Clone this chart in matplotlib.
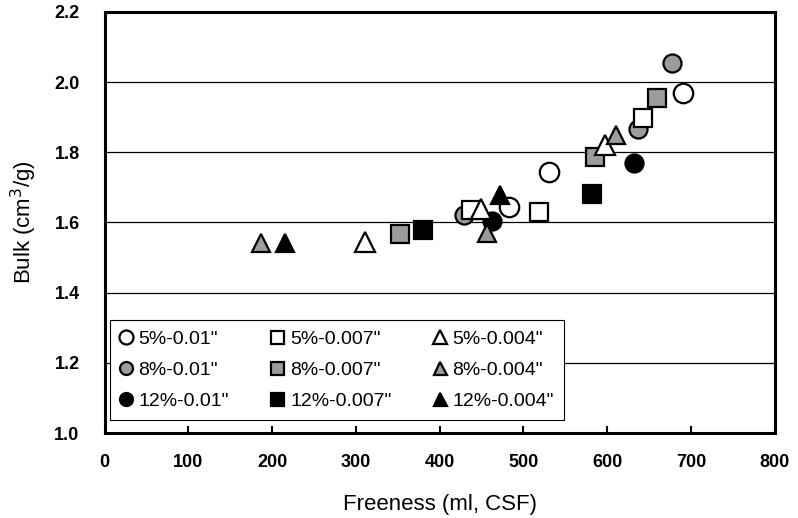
import matplotlib
matplotlib.use("Agg")
import matplotlib.pyplot as plt

plt.rcParams['font.family'] = ['Liberation Sans', 'DejaVu Sans']

# Data: (freeness, bulk) per series
labels = ['5%-0.01"', '8%-0.01"', '12%-0.01"',
          '5%-0.007"', '8%-0.007"', '12%-0.007"',
          '5%-0.004"', '8%-0.004"', '12%-0.004"']

x_5_010 = [483, 530, 690]
y_5_010 = [1.645, 1.743, 1.968]
x_8_010 = [429, 637, 677]
y_8_010 = [1.620, 1.866, 2.054]
x_12_010 = [462, 632]
y_12_010 = [1.604, 1.769]

x_5_007 = [437, 518, 643]
y_5_007 = [1.636, 1.631, 1.897]
x_8_007 = [353, 585, 659]
y_8_007 = [1.566, 1.786, 1.956]
x_12_007 = [380, 582]
y_12_007 = [1.579, 1.681]

x_5_004 = [311, 449, 597]
y_5_004 = [1.544, 1.638, 1.821]
x_8_004 = [187, 457, 611]
y_8_004 = [1.542, 1.570, 1.849]
x_12_004 = [215, 472]
y_12_004 = [1.542, 1.678]

xs = [x_5_010, x_8_010, x_12_010, x_5_007, x_8_007, x_12_007, x_5_004, x_8_004, x_12_004]
ys = [y_5_010, y_8_010, y_12_010, y_5_007, y_8_007, y_12_007, y_5_004, y_8_004, y_12_004]
markers = ['o', 'o', 'o', 's', 's', 's', '^', '^', '^']
fills = ['white', '#9c9c9c', 'black'] * 3
sizes = [14, 13, 13, 13, 13, 13, 14, 13, 13]

fig = plt.figure(figsize=(7.98, 5.18), dpi=100)
ax = fig.add_axes([0.131, 0.164, 0.840, 0.813])

handles = []
for x, y, m, fc, ms, lab in zip(xs, ys, markers, fills, sizes, labels):
    h, = ax.plot(x, y, linestyle='none', marker=m, markersize=ms,
                 markerfacecolor=fc, markeredgecolor='black', markeredgewidth=1.6,
                 label=lab, zorder=3)
    handles.append(h)

ax.set_xlim(0, 800)
ax.set_ylim(1.0, 2.2)
ax.set_xticks(range(0, 801, 100))
ax.set_yticks([1.0, 1.2, 1.4, 1.6, 1.8, 2.0, 2.2])
ax.set_yticklabels(['1.0', '1.2', '1.4', '1.6', '1.8', '2.0', '2.2'])
ax.yaxis.grid(True, color='black', linewidth=0.9)
ax.set_axisbelow(True)
ax.tick_params(axis='x', direction='in', length=5, width=1.5, labelsize=13, pad=15)
ax.tick_params(axis='y', length=0, labelsize=13, pad=18)
for lbl in ax.get_xticklabels() + ax.get_yticklabels():
    lbl.set_fontweight('bold')
for s in ax.spines.values():
    s.set_linewidth(2.2)

ax.set_xlabel('Freeness (ml, CSF)', fontsize=16, labelpad=17)
ax.set_ylabel('Bulk (cm$^3$/g)', fontsize=16, labelpad=11)

leg = ax.legend(handles=handles, ncol=3, loc='lower left', bbox_to_anchor=(-0.006, 0.008),
                fontsize=14, frameon=True, fancybox=False, edgecolor='black',
                handlelength=0.6, handletextpad=0.35, columnspacing=2.2,
                labelspacing=0.7, borderpad=0.5, markerscale=0.72, framealpha=1)
leg.get_frame().set_linewidth(0.8)

fig.savefig('out.png', dpi=100)
